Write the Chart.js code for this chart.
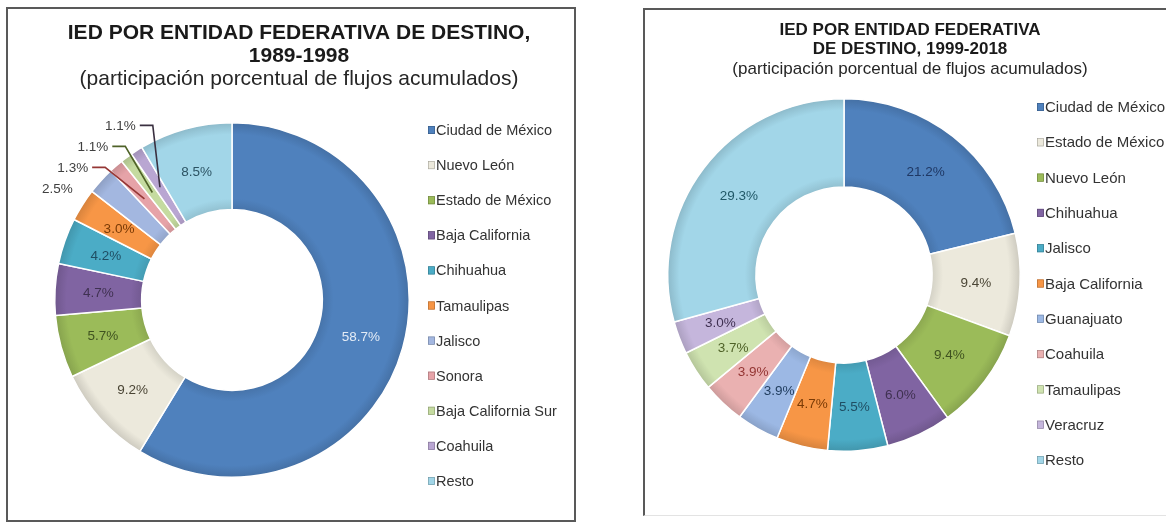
<!DOCTYPE html>
<html>
<head>
<meta charset="utf-8">
<script src="https://cdn.jsdelivr.net/npm/chart.js@4.4.1/dist/chart.umd.min.js"></script>
<style>
html,body{margin:0;padding:0;background:#fff;width:1166px;height:523px;overflow:hidden;}
.box{position:absolute;box-sizing:content-box;background:#fff;}
#boxA{left:6px;top:7px;width:566px;height:511px;border:2px solid #595959;}
#boxB{left:643px;top:8px;width:523px;height:505px;border-left:2px solid #595959;border-top:2px solid #595959;border-bottom:1px solid #e3e3e3;}
canvas{display:block;}
</style>
</head>
<body>
<div class="box" id="boxA"><canvas id="chartA"></canvas></div>
<div class="box" id="boxB"><canvas id="chartB"></canvas></div>
<script>
// ---------- Data ----------
const categoriasA = ['Ciudad de México','Nuevo León','Estado de México','Baja California','Chihuahua','Tamaulipas','Jalisco','Sonora','Baja California Sur','Coahuila','Resto'];
const valoresA = [58.7, 9.2, 5.7, 4.7, 4.2, 3.0, 2.5, 1.3, 1.1, 1.1, 8.5];
const tituloA = ['IED POR ENTIDAD FEDERATIVA DE DESTINO,', '1989-1998'];
const subtituloA = '(participación porcentual de flujos acumulados)';

const categoriasB = ['Ciudad de México','Estado de México','Nuevo León','Chihuahua','Jalisco','Baja California','Guanajuato','Coahuila','Tamaulipas','Veracruz','Resto'];
const valoresB = [21.2, 9.4, 9.4, 6.0, 5.5, 4.7, 3.9, 3.9, 3.7, 3.0, 29.3];
const tituloB = ['IED POR ENTIDAD FEDERATIVA', 'DE DESTINO, 1999-2018'];
const subtituloB = '(participación porcentual de flujos acumulados)';

// ---------- Styles ----------
const coloresA = ['#4f81bd','#ece9dc','#9bbb59','#8064a2','#4bacc6','#f79646','#a3b7e0','#e6a3a8','#c5dba0','#b9a6d2','#a2d6e8'];
const textoA   = ['#e4ecf6','#4a4535','#3f5220','#3f3151','#1f4e63','#7a3a05','#404040','#404040','#404040','#404040','#2c5363'];
const lineaA   = [null,null,null,null,null,null,null,'#953735','#4f6228','#3a3040',null];

const coloresB = ['#4f81bd','#ece9dc','#9bbb59','#8064a2','#4bacc6','#f79646','#9cb8e4','#eab1b1','#cfe3b0','#c5b6dc','#a2d6e8'];
const textoB   = ['#1f3864','#4a4535','#3f5220','#3f3151','#1f4e63','#7a3a05','#244062','#943634','#4f6228','#403152','#215968'];

const FONT = '"Liberation Sans", Arial, Helvetica, sans-serif';

function shade(hex, f) {
  const n = parseInt(hex.slice(1), 16);
  let r = (n >> 16) & 255, g = (n >> 8) & 255, b = n & 255;
  const t = f < 0 ? 0 : 255, p = Math.abs(f);
  r = Math.round((t - r) * p + r); g = Math.round((t - g) * p + g); b = Math.round((t - b) * p + b);
  return 'rgb(' + r + ',' + g + ',' + b + ')';
}

function bevel(colors, cut) {
  return (c) => {
    const chart = c.chart, a = chart.chartArea, base = colors[c.dataIndex];
    if (!a || c.dataIndex === undefined) return base;
    const cx = (a.left + a.right) / 2, cy = (a.top + a.bottom) / 2;
    const R = Math.min(a.right - a.left, a.bottom - a.top) / 2;
    const g = chart.ctx.createRadialGradient(cx, cy, 0, cx, cy, R);
    g.addColorStop(0, shade(base, -0.12));
    g.addColorStop(cut, shade(base, -0.10));
    g.addColorStop(cut + 0.06, base);
    g.addColorStop(0.93, base);
    g.addColorStop(1, shade(base, -0.14));
    return g;
  };
}

function decor(cfg) {
  return {
    id: 'decor',
    afterDraw(chart) {
      const ctx = chart.ctx;
      ctx.save();
      // titles
      ctx.textAlign = 'center';
      ctx.textBaseline = 'middle';
      ctx.fillStyle = '#1a1a1a';
      ctx.font = 'bold ' + cfg.titleSize + 'px ' + FONT;
      cfg.title.forEach((t, k) => ctx.fillText(t, cfg.titleX, cfg.titleY[k]));
      ctx.fillStyle = '#262626';
      ctx.font = cfg.titleSize + 'px ' + FONT;
      ctx.fillText(cfg.subtitle, cfg.titleX, cfg.titleY[2]);
      // legend
      ctx.textAlign = 'left';
      ctx.font = cfg.legendSize + 'px ' + FONT;
      chart.data.labels.forEach((lab, i) => {
        const y = cfg.legendY + i * cfg.legendStep;
        ctx.fillStyle = cfg.colors[i];
        ctx.fillRect(cfg.legendX, y - 4, 7, 8);
        ctx.strokeStyle = shade(cfg.colors[i].startsWith('#') ? cfg.colors[i] : '#888888', -0.3);
        ctx.lineWidth = 0.6;
        ctx.strokeRect(cfg.legendX + 0.3, y - 3.7, 6.4, 7.4);
        ctx.fillStyle = '#333333';
        ctx.fillText(lab, cfg.legendX + 8, y + 1);
      });
      // data labels
      const meta = chart.getDatasetMeta(0);
      const vals = chart.data.datasets[0].data;
      ctx.font = cfg.labelSize + 'px ' + FONT;
      ctx.textAlign = 'center';
      const outside = [];
      meta.data.forEach((arc, i) => {
        const p = arc.getProps(['x','y','startAngle','endAngle','innerRadius','outerRadius'], true);
        const mid = (p.startAngle + p.endAngle) / 2;
        const rm = (p.innerRadius + p.outerRadius) / 2;
        const ax = p.x + Math.cos(mid) * rm, ay = p.y + Math.sin(mid) * rm;
        const txt = vals[i].toFixed(1) + '%';
        if (cfg.outsideBelow && vals[i] < cfg.outsideBelow) {
          const rl = p.outerRadius + cfg.outsideGap;
          outside.push({i, txt, ax, ay, cx: p.x, cy: p.y, rl,
                        x: p.x + Math.cos(mid) * rl, y: p.y + Math.sin(mid) * rl});
        } else {
          ctx.fillStyle = cfg.textColors[i];
          ctx.fillText(txt, ax, ay + 1);
        }
      });
      outside.sort((a, b) => a.y - b.y);
      let prev = -Infinity;
      outside.forEach(o => {
        o.y = Math.max(o.y, prev + cfg.outsideStep);
        prev = o.y;
        const dy = o.y - o.cy;
        const dx = Math.sqrt(Math.max(o.rl * o.rl - dy * dy, 0));
        o.x = o.x < o.cx ? o.cx - dx : o.cx + dx;
        ctx.fillStyle = cfg.textColors[o.i];
        ctx.fillText(o.txt, o.x, o.y + 1);
        if (cfg.leaders[o.i]) {
          const w = ctx.measureText(o.txt).width;
          const x0 = o.x + w / 2 + 4;
          ctx.beginPath();
          ctx.moveTo(x0, o.y);
          ctx.lineTo(x0 + 13, o.y);
          ctx.lineTo(o.ax, o.ay);
          ctx.strokeStyle = cfg.leaders[o.i];
          ctx.lineWidth = 1.6;
          ctx.stroke();
        }
      });
      ctx.restore();
    }
  };
}

function makeChart(id, labels, values, colors, cut, padding, cfg) {
  return new Chart(document.getElementById(id), {
    type: 'doughnut',
    data: {
      labels: labels,
      datasets: [{
        data: values,
        backgroundColor: bevel(colors, cut),
        borderColor: '#ffffff',
        borderWidth: 1.5
      }]
    },
    options: {
      responsive: true,
      maintainAspectRatio: false,
      animation: false,
      events: [],
      cutout: (cut * 100) + '%',
      layout: { padding: padding },
      plugins: { legend: { display: false }, tooltip: { enabled: false }, title: { display: false } }
    },
    plugins: [decor(cfg)]
  });
}

makeChart('chartA', categoriasA, valoresA, coloresA, 0.51,
  { left: 46, top: 113, right: 164, bottom: 42 },
  { title: tituloA, subtitle: subtituloA, titleSize: 21, titleX: 291, titleY: [24, 47, 70],
    legendX: 420, legendY: 121, legendStep: 35.1, legendSize: 14.5, colors: coloresA,
    labelSize: 13.5, textColors: textoA, outsideBelow: 3, outsideGap: 30, outsideStep: 21, leaders: lineaA });

makeChart('chartB', categoriasB, valoresB, coloresB, 0.5,
  { left: 22, top: 88, right: 147, bottom: 63 },
  { title: tituloB, subtitle: subtituloB, titleSize: 17, titleX: 265, titleY: [20, 39, 59],
    legendX: 392, legendY: 97, legendStep: 35.3, legendSize: 15, colors: coloresB,
    labelSize: 13.5, textColors: textoB, outsideBelow: 0, outsideGap: 0, outsideStep: 0, leaders: [] });
</script>
</body>
</html>
